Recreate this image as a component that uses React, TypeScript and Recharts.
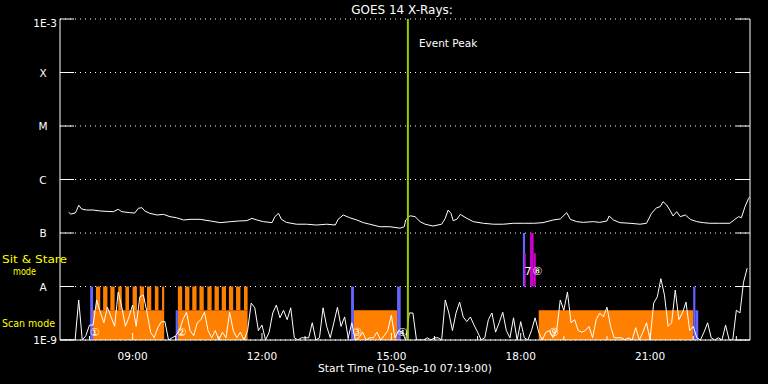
import React from 'react'
import {
  ComposedChart, Line, XAxis, YAxis, CartesianGrid, ReferenceArea, ReferenceLine, ReferenceDot,
} from 'recharts'

const START = '07:19'
const SPAN_HOURS = 16
const HOUR_TICKS = [8, 9, 10, 11, 12, 13, 14, 15, 16, 17, 18, 19, 20, 21, 22, 23]
const MAJOR_HOURS = [9, 12, 15, 18, 21]
const FLUX_TICKS = [-9, -8, -7, -6, -5, -4, -3]
const FLUX_LABELS = ['1E-9', 'A', 'B', 'C', 'M', 'X', '1E-3']
const EVENT_PEAK = '15:23'

// 1-8 A channel, units of 1e-7 W/m2
const goesLong: [string, number][] = [
  ['07:31', 2.44], ['07:34', 2.26], ['07:40', 2.36], ['07:42', 2.61], ['07:45', 3.3], ['07:49', 2.81],
  ['07:56', 2.69], ['08:05', 2.69], ['08:15', 2.58], ['08:33', 2.5], ['08:40', 2.77], ['08:45', 2.5],
  ['08:56', 2.4], ['09:03', 2.36], ['09:08', 2.9], ['09:13', 2.97], ['09:17', 2.58], ['09:24', 2.33],
  ['09:34', 2.17], ['09:43', 2.23], ['09:52', 2.02], ['10:01', 1.93], ['10:11', 1.75], ['10:20', 1.8],
  ['10:34', 1.8], ['10:48', 1.68], ['11:02', 1.56], ['11:16', 1.63], ['11:29', 1.68], ['11:39', 1.7],
  ['11:46', 1.88], ['11:53', 1.75], ['12:02', 1.63], ['12:14', 1.56], ['12:18', 2.02], ['12:23', 2.33],
  ['12:27', 1.8], ['12:34', 1.58], ['12:48', 1.46], ['13:02', 1.46], ['13:16', 1.41], ['13:30', 1.46],
  ['13:42', 1.41], ['13:46', 1.8], ['13:53', 2.17], ['14:02', 1.93], ['14:12', 1.75], ['14:21', 1.56],
  ['14:30', 1.46], ['14:44', 1.31], ['14:58', 1.31], ['15:12', 1.23], ['15:18', 1.31], ['15:20', 1.75],
  ['15:26', 2.1], ['15:33', 2.02], ['15:40', 1.63], ['15:47', 1.46], ['15:58', 1.35], ['16:10', 1.46],
  ['16:15', 1.88], ['16:19', 2.69], ['16:23', 2.33], ['16:26', 1.7], ['16:31', 1.8], ['16:36', 2.23],
  ['16:45', 1.88], ['16:54', 1.63], ['17:08', 1.52], ['17:22', 1.46], ['17:36', 1.46], ['17:50', 1.52],
  ['18:04', 1.52], ['18:18', 1.52], ['18:31', 1.56], ['18:45', 1.75], ['18:55', 1.83], ['19:04', 2.4],
  ['19:09', 1.8], ['19:18', 1.63], ['19:27', 1.58], ['19:41', 1.63], ['19:50', 1.58], ['20:00', 1.68],
  ['20:03', 2.08], ['20:09', 1.75], ['20:18', 1.56], ['20:32', 1.52], ['20:46', 1.46], ['20:55', 1.52],
  ['21:02', 2.33], ['21:09', 2.97], ['21:14', 3.1], ['21:18', 3.85], ['21:23', 3.34], ['21:28', 2.61],
  ['21:32', 2.08], ['21:37', 2.5], ['21:42', 2.02], ['21:49', 2.17], ['21:56', 1.8], ['22:05', 1.63],
  ['22:14', 1.56], ['22:23', 1.52], ['22:37', 1.52], ['22:51', 1.52], ['22:58', 1.8], ['23:03', 2.02],
  ['23:07', 1.93], ['23:12', 3.1], ['23:17', 4.45], ['23:19', 4.77],
]

// detrended low channel, 5 min cadence from 07:20, units of 1e-9 W/m2
const LOW_START = '07:20'
const LOW_CADENCE_MIN = 5
const lowChannel = [
  1.0, 1.0, 1.0, 1.0, 1.0, 5.6, 1.0, 1.2, 1.9, 1.9,
  5.6, 3.3, 2.1, 4.1, 2.7, 1.8, 7.9, 4.1, 1.8, 2.7,
  4.5, 1.8, 6.4, 6.9, 3.3, 1.4, 1.1, 1.7, 2.2, 2.2,
  1.0, 1.1, 1.2, 1.5, 2.4, 3.3, 1.5, 1.2, 2.1, 2.4,
  3.3, 1.5, 1.1, 1.5, 1.0, 1.4, 1.1, 3.3, 1.5, 1.1,
  1.4, 1.0, 1.5, 4.9, 4.0, 1.5, 1.9, 1.0, 1.4, 3.2,
  4.5, 2.6, 3.6, 2.4, 4.0, 1.1, 1.0, 1.1, 1.1, 1.1,
  2.1, 1.0, 1.1, 4.0, 1.8, 1.1, 2.1, 4.1, 1.8, 2.7,
  1.1, 2.1, 1.0, 1.1, 1.4, 1.0, 1.1, 1.1, 1.4, 1.0,
  1.2, 1.5, 2.9, 1.1, 1.5, 1.4, 1.0, 3.2, 3.2, 1.0,
  1.0, 1.0, 1.1, 1.0, 1.1, 1.1, 1.0, 5.6, 3.2, 1.5,
  3.2, 5.1, 2.7, 2.2, 2.7, 1.9, 1.4, 1.0, 1.1, 2.4,
  3.2, 1.4, 2.1, 3.3, 1.5, 1.1, 2.6, 1.0, 2.2, 1.1,
  1.0, 1.5, 2.6, 1.4, 1.0, 1.4, 1.5, 1.1, 1.5, 5.6,
  3.6, 7.9, 2.1, 2.4, 1.5, 1.4, 1.5, 1.8, 1.1, 2.4,
  3.2, 2.7, 4.1, 1.8, 1.1, 1.1, 1.1, 1.0, 1.1, 1.0,
  1.7, 1.0, 1.4, 2.1, 1.0, 4.9, 6.4, 14, 6.9, 1.8,
  2.1, 8.6, 2.4, 3.2, 5.1, 1.5, 1.8, 1.1, 1.0, 1.4,
  2.1, 1.1, 1.0, 1.1, 1.0, 1.9, 1.0, 1.0, 3.6, 3.2,
  12, 22,
]

// observing mode bands (W/m2 levels on the plot)
const BAND_FLOOR = 1e-9
const SCAN_TOP = 3.6e-9
const COMB_TOP = 1e-8
const STARE_MID = 4.2e-8
const STARE_TOP = 1e-7

const scanBlocks: [string, string][] = [
  ['08:05', '09:44'], ['10:03', '11:40'], ['14:08', '15:08'], ['18:25', '22:00'],
]
const scanComb: [string, string][] = [
  ['08:09', '08:15'], ['08:19', '08:25'], ['08:29', '08:35'], ['08:40', '08:45'], ['08:50', '08:55'],
  ['09:00', '09:06'], ['09:10', '09:16'], ['09:20', '09:26'], ['09:31', '09:36'], ['09:41', '09:44'],
  ['10:03', '10:09'], ['10:13', '10:19'], ['10:23', '10:29'], ['10:33', '10:39'], ['10:44', '10:50'],
  ['10:54', '11:00'], ['11:04', '11:10'], ['11:14', '11:20'], ['11:24', '11:30'], ['11:35', '11:40'],
]
const slews: [string, string, number, number][] = [
  ['08:01', '08:05', BAND_FLOOR, COMB_TOP],
  ['10:00', '10:03', BAND_FLOOR, SCAN_TOP],
  ['14:04', '14:08', BAND_FLOOR, COMB_TOP],
  ['15:08', '15:13', BAND_FLOOR, COMB_TOP],
  ['18:03', '18:06', COMB_TOP, STARE_TOP],
  ['22:00', '22:03', BAND_FLOOR, COMB_TOP],
  ['22:03', '22:07', BAND_FLOOR, SCAN_TOP],
]
const sitStare: [string, string, number, number][] = [
  ['18:05', '18:07', COMB_TOP, STARE_MID],
  ['18:13', '18:18', COMB_TOP, STARE_TOP],
  ['18:18', '18:21', COMB_TOP, STARE_MID],
]
const markers: [string, number, string][] = [
  ['08:07', 1.4e-9, '①'], ['10:08', 1.4e-9, '②'], ['14:12', 1.4e-9, '③'], ['15:15', 1.4e-9, '④'],
  ['18:10', 1.9e-8, '7'], ['18:23', 1.9e-8, '⑧'], ['18:46', 1.4e-9, '⑨'],
]

const toHours = (s: string) => {
  const [h, m] = s.split(':').map(Number)
  return h + m / 60
}
const T0 = toHours(START)
const T1 = T0 + SPAN_HOURS
const lg = Math.log10

const goesData = goesLong.map(([t, v]) => ({ t: toHours(t), v: lg(v * 1e-7) }))
const lowData = lowChannel.map((v, i) => ({
  t: toHours(LOW_START) + (i * LOW_CADENCE_MIN) / 60,
  v: lg(v * 1e-9),
}))

const FONT = '"DejaVu Sans", sans-serif'
const WHITE = '#ffffff'
const ORANGE = '#ff8000'
const BLUE = '#6464ff'
const MAGENTA = '#cc00cc'
const GREEN = '#99cc00'
const YELLOW = '#ffff00'

const hh = (h: number) => `${String(h).padStart(2, '0')}:00`

function LeftTick({ x, y, payload }: any) {
  const label = FLUX_LABELS[FLUX_TICKS.indexOf(payload.value)]
  const single = label.length === 1
  return (
    <g>
      <line x1={x} x2={x + 14} y1={y} y2={y} stroke={WHITE} />
      <text
        x={single ? x - 17 : x - 3}
        y={y}
        dy={payload.value === -3 ? 8 : 4}
        textAnchor={single ? 'middle' : 'end'}
        fill={WHITE}
        fontSize={10.5}
        fontFamily={FONT}
      >
        {label}
      </text>
    </g>
  )
}

function RightTick({ x, y }: any) {
  return <line x1={x} x2={x - 14} y1={y} y2={y} stroke={WHITE} />
}

function BottomTick({ x, y, payload }: any) {
  const major = MAJOR_HOURS.includes(payload.value)
  return (
    <g>
      <line x1={x} x2={x} y1={y} y2={y - (major ? 7 : 4)} stroke={WHITE} />
      {major && (
        <text x={x} y={y + 19.5} textAnchor="middle" fill={WHITE} fontSize={10.5} fontFamily={FONT}>
          {hh(payload.value)}
        </text>
      )}
    </g>
  )
}

function TopTick({ x, y, payload }: any) {
  const major = MAJOR_HOURS.includes(payload.value)
  return <line x1={x} x2={x} y1={y} y2={y + (major ? 7 : 4)} stroke={WHITE} />
}

const area = (key: string, from: string, to: string, lo: number, hi: number, fill: string) => (
  <ReferenceArea
    key={key}
    x1={toHours(from)}
    x2={toHours(to)}
    y1={lg(lo)}
    y2={lg(hi)}
    fill={fill}
    fillOpacity={1}
    stroke="none"
    ifOverflow="hidden"
  />
)

export default function App() {
  return (
    <div style={{ position: 'absolute', left: 0, top: 0, width: 768, height: 384, background: '#000' }}>
      <ComposedChart width={768} height={384} margin={{ top: 19, right: 0, bottom: 0, left: 0 }}>
        <CartesianGrid stroke={WHITE} strokeDasharray="1 4" vertical={false} />
        <XAxis
          dataKey="t"
          type="number"
          domain={[T0, T1]}
          allowDataOverflow
          ticks={HOUR_TICKS}
          interval={0}
          height={44}
          tickSize={0}
          tickMargin={0}
          tickLine={false}
          axisLine={{ stroke: WHITE }}
          tick={BottomTick}
        />
        <XAxis
          xAxisId="top"
          orientation="top"
          dataKey="t"
          type="number"
          domain={[T0, T1]}
          allowDataOverflow
          ticks={HOUR_TICKS}
          interval={0}
          height={0}
          tickSize={0}
          tickMargin={0}
          tickLine={false}
          axisLine={{ stroke: WHITE }}
          tick={TopTick}
        />
        <YAxis
          type="number"
          domain={[-9, -3]}
          allowDataOverflow
          ticks={FLUX_TICKS}
          interval={0}
          width={60}
          tickSize={0}
          tickMargin={0}
          tickLine={false}
          axisLine={{ stroke: WHITE }}
          tick={LeftTick}
        />
        <YAxis
          yAxisId="right"
          orientation="right"
          type="number"
          domain={[-9, -3]}
          allowDataOverflow
          ticks={FLUX_TICKS}
          interval={0}
          width={18}
          tickSize={0}
          tickMargin={0}
          tickLine={false}
          axisLine={{ stroke: WHITE }}
          tick={RightTick}
        />

        {scanBlocks.map(([a, b], i) => area(`s${i}`, a, b, BAND_FLOOR, SCAN_TOP, ORANGE))}
        {scanComb.map(([a, b], i) => area(`c${i}`, a, b, SCAN_TOP, COMB_TOP, ORANGE))}
        {slews.map(([a, b, lo, hi], i) => area(`b${i}`, a, b, lo, hi, BLUE))}
        {sitStare.map(([a, b, lo, hi], i) => area(`m${i}`, a, b, lo, hi, MAGENTA))}

        <Line
          data={lowData}
          dataKey="v"
          type="linear"
          stroke={WHITE}
          strokeWidth={1}
          dot={false}
          isAnimationActive={false}
        />
        <Line
          data={goesData}
          dataKey="v"
          type="linear"
          stroke={WHITE}
          strokeWidth={1}
          dot={false}
          isAnimationActive={false}
        />

        {markers.map(([t, f, s], i) => (
          <ReferenceDot
            key={`n${i}`}
            x={toHours(t)}
            y={lg(f)}
            r={1}
            fill="none"
            stroke="none"
            label={{ value: s, position: 'center', fill: WHITE, fontSize: 11, fontFamily: FONT }}
          />
        ))}

        <ReferenceLine
          x={toHours(EVENT_PEAK)}
          stroke={GREEN}
          strokeWidth={2}
          label={({ viewBox }: any) => (
            <text x={viewBox.x + 11} y={viewBox.y + 28} fill={WHITE} fontSize={10.5} fontFamily={FONT}>
              Event Peak
            </text>
          )}
        />
      </ComposedChart>

      <svg
        width={768}
        height={384}
        style={{ position: 'absolute', left: 0, top: 0, pointerEvents: 'none' }}
        fontFamily={FONT}
      >
        <text x={402} y={14} textAnchor="middle" fill={WHITE} fontSize={12}>GOES 14 X-Rays:</text>
        <text x={318} y={372} fill={WHITE} fontSize={11} textLength={174} lengthAdjust="spacingAndGlyphs">
          Start Time (10-Sep-10 07:19:00)
        </text>
        <text x={2} y={263} fill={YELLOW} fontSize={11} textLength={65} lengthAdjust="spacingAndGlyphs">
          Sit &amp; Stare
        </text>
        <text x={13} y={275} fill={YELLOW} fontSize={11} textLength={23} lengthAdjust="spacingAndGlyphs">
          mode
        </text>
        <text x={2} y={327} fill={YELLOW} fontSize={11} textLength={53} lengthAdjust="spacingAndGlyphs">
          Scan mode
        </text>
      </svg>
    </div>
  )
}
